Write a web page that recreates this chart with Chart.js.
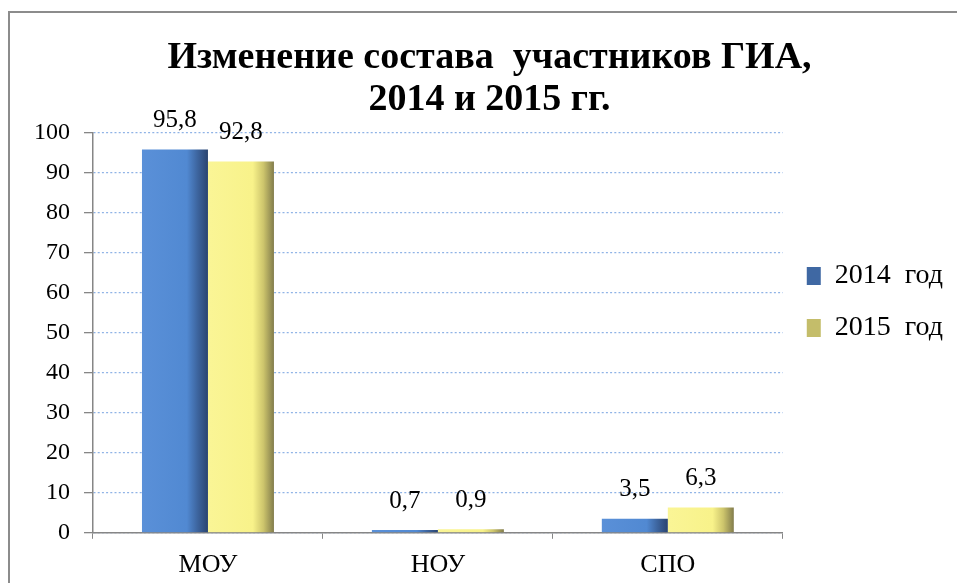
<!DOCTYPE html>
<html>
<head>
<meta charset="utf-8">
<script src="https://cdn.jsdelivr.net/npm/chart.js@4/dist/chart.umd.min.js"></script>
<style>
  html, body { margin: 0; padding: 0; background: #fff; overflow: hidden; }
  #frame { position: absolute; left: 8px; top: 11px; width: 1200px; height: 900px;
           border-left: 2px solid #8c8c8c; border-top: 2px solid #8c8c8c; background: #fff; }
  #wrap { position: absolute; left: 0; top: 0; width: 957px; height: 583px; }
</style>
</head>
<body>
<div id="frame"></div>
<div id="wrap"><canvas id="chart" width="957" height="583"></canvas></div>
<script>
const categories = ["МОУ", "НОУ", "СПО"];
const seriesNames = ["2014  год", "2015  год"];
const values2014 = [95.8, 0.7, 3.5];
const values2015 = [92.8, 0.9, 6.3];
const titleLines = ["Изменение состава  участников ГИА,", "2014 и 2015 гг."];
const yMin = 0, yMax = 100, yStep = 10;

const serif = "'Liberation Serif', 'Times New Roman', serif";
const catPct = 0.574;

// horizontal shading of each bar (flat face, dark right edge)
const shades = [
  [[0, "#5a90d8"], [0.68, "#5189d2"], [0.84, "#3d659f"], [1, "#2a4470"]],
  [[0, "#faf596"], [0.68, "#f8f28a"], [0.84, "#cdc56c"], [1, "#827c4c"]]
];
const legendColors = ["#3f68a3", "#c4bd6a"];

function barFill(di) {
  return (c) => {
    const chart = c.chart;
    const x = chart.scales.x;
    if (!chart.chartArea || !x || c.dataIndex === undefined) return shades[di][1][1];
    const group = (x.width / categories.length) * catPct;
    const w = group / 2;
    const left = x.getPixelForValue(c.dataIndex) - group / 2 + di * w;
    const g = chart.ctx.createLinearGradient(left, 0, left + w, 0);
    shades[di].forEach(s => g.addColorStop(s[0], s[1]));
    return g;
  };
}

// value labels above the bars, decimal comma
const valueLabels = {
  id: "valueLabels",
  afterDatasetsDraw(chart) {
    const ctx = chart.ctx;
    ctx.save();
    ctx.font = "25px " + serif;
    ctx.fillStyle = "#000";
    ctx.textAlign = "center";
    ctx.textBaseline = "middle";
    chart.data.datasets.forEach((ds, di) => {
      chart.getDatasetMeta(di).data.forEach((bar, i) => {
        ctx.fillText(String(ds.data[i]).replace(".", ","), bar.x, bar.y - 29);
      });
    });
    ctx.restore();
  }
};

// legend block higher up, title centred over the whole frame
const placeBlocks = {
  id: "placeBlocks",
  afterLayout(chart) {
    const lg = chart.legend;
    lg.top = 238;
    lg.bottom = 583;
    const tb = chart.titleBlock;
    tb.left += 3;
    tb.right += 3;
  }
};

new Chart(document.getElementById("chart"), {
  type: "bar",
  data: {
    labels: categories,
    datasets: [
      { label: seriesNames[0], data: values2014, backgroundColor: barFill(0), borderWidth: 0,
        categoryPercentage: catPct, barPercentage: 1 },
      { label: seriesNames[1], data: values2015, backgroundColor: barFill(1), borderWidth: 0,
        categoryPercentage: catPct, barPercentage: 1 }
    ]
  },
  options: {
    responsive: false,
    animation: false,
    devicePixelRatio: 1,
    layout: { padding: { left: 20, right: 4, top: 16, bottom: -9 } },
    plugins: {
      title: {
        display: true,
        text: titleLines,
        color: "#000",
        font: { family: serif, size: 38, weight: "bold", lineHeight: 1.1 },
        padding: { top: 21, bottom: 12 }
      },
      legend: {
        position: "right",
        align: "start",
        labels: {
          color: "#000",
          font: { family: serif, size: 28 },
          boxWidth: 14,
          boxHeight: 18,
          padding: 24,
          generateLabels(chart) {
            return chart.data.datasets.map((ds, i) => ({
              text: ds.label,
              fillStyle: legendColors[i],
              strokeStyle: legendColors[i],
              lineWidth: 0,
              hidden: false,
              datasetIndex: i
            }));
          }
        }
      },
      tooltip: { enabled: false }
    },
    scales: {
      x: {
        grid: { drawOnChartArea: false, drawTicks: true, tickLength: 6, tickColor: "#868686", offset: true },
        border: { color: "#868686", width: 1.5 },
        ticks: { color: "#000", font: { family: serif, size: 26 }, padding: 11 }
      },
      y: {
        min: yMin,
        max: yMax,
        grid: { color: "#8fb3e6", lineWidth: 1.3, tickColor: "#868686", tickLength: 9, tickBorderDash: [] },
        border: { color: "#868686", width: 1.5, dash: [2, 2.2] },
        ticks: { stepSize: yStep, color: "#000", font: { family: serif, size: 24 }, padding: 14 }
      }
    }
  },
  plugins: [valueLabels, placeBlocks]
});
</script>
</body>
</html>
